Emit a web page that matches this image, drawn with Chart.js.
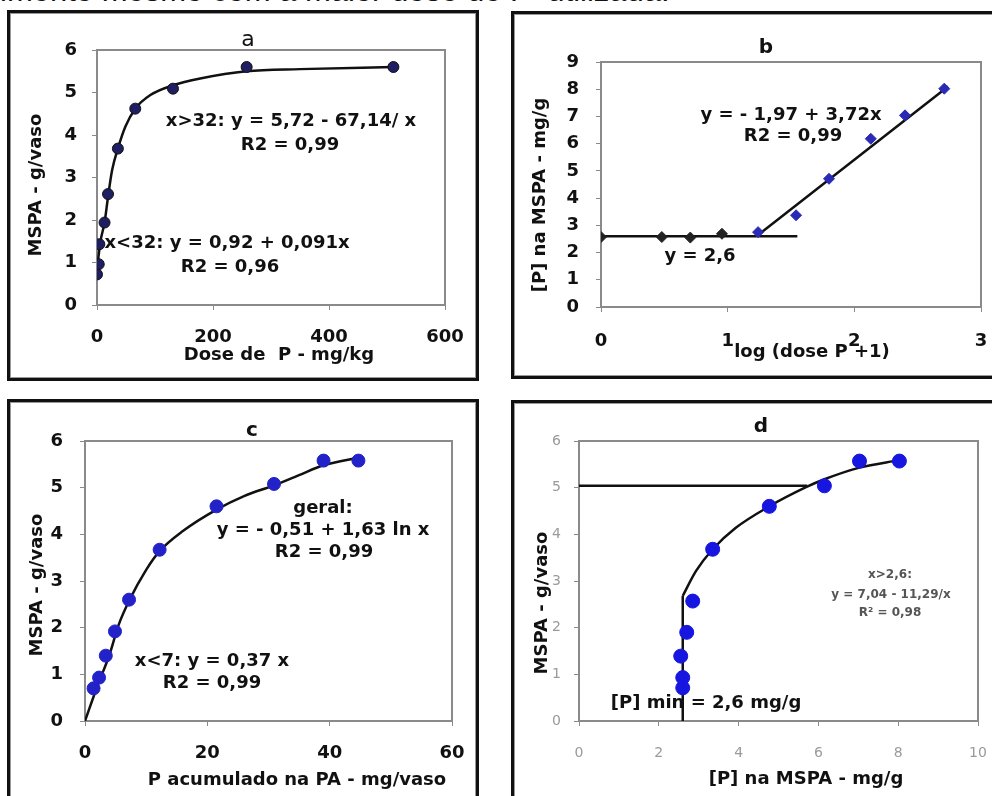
<!DOCTYPE html>
<html lang="pt">
<head>
<meta charset="utf-8">
<title>MSPA e P na MSPA</title>
<script src="https://cdn.jsdelivr.net/npm/chart.js@4.4.1/dist/chart.umd.min.js"></script>
<style>
  html, body { margin: 0; padding: 0; background: #fff; overflow: hidden; }
  body { width: 992px; height: 796px; position: relative; }
  .caption {
    position: absolute; left: 0; top: -25px;
    font: 31px "Liberation Sans", Arial, sans-serif; line-height: 31px;
    white-space: pre; color: #111;
  }
  .panel {
    position: absolute; box-sizing: border-box;
    border: 3px solid #111; box-shadow: inset 0 0 0 1px #999; background: #fff;
  }
  .panel canvas { position: absolute; left: 0; top: 0; }
</style>
</head>
<body>
<div class="caption">imento mesmo com a maior dose de P  utilizada.</div>
<div class="panel" id="panelA"><canvas id="chartA"></canvas></div>
<div class="panel" id="panelB"><canvas id="chartB"></canvas></div>
<div class="panel" id="panelC"><canvas id="chartC"></canvas></div>
<div class="panel" id="panelD"><canvas id="chartD"></canvas></div>
<script>
// Panel a: MSPA (g/vaso) vs dose de P (mg/kg)
const doseP = [0, 3, 4, 13, 19, 36, 66, 131, 258, 511];
const mspaA = [0.72, 0.96, 1.43, 1.94, 2.61, 3.68, 4.62, 5.09, 5.6, 5.6];
const curveADose = [1, 6, 13, 19, 26, 36, 49, 66, 92, 131, 178, 258, 350, 511];
const curveAMspa = [0.96, 1.5, 1.94, 2.54, 3.17, 3.68, 4.2, 4.62, 4.94, 5.17, 5.33, 5.5, 5.55, 5.6];
const xTicksA = [0, 200, 400, 600];
const yTicksA = [0, 1, 2, 3, 4, 5, 6];

// Panel b: [P] na MSPA (mg/g) vs log(dose P + 1)
const logDose = [0, 0.48, 0.705, 0.955, 1.24, 1.54, 1.8, 2.13, 2.4, 2.71];
const pMspaB = [2.57, 2.57, 2.55, 2.69, 2.75, 3.37, 4.71, 6.18, 7.04, 8.02];
const plateauBX = [0, 1.55];
const plateauBY = [2.6, 2.6];
const slopeBX = [1.25, 2.74];
const slopeBY = [2.68, 8.1];
const xTicksB = [0, 1, 2, 3];
const yTicksB = [0, 1, 2, 3, 4, 5, 6, 7, 8, 9];

// Panel c: MSPA vs P acumulado na PA (mg/vaso)
const pAcum = [1.4, 2.3, 3.4, 4.9, 7.2, 12.2, 21.5, 30.9, 39.0, 44.7];
const mspaC = [0.7, 0.93, 1.4, 1.92, 2.6, 3.67, 4.6, 5.08, 5.58, 5.58];
const curveCX = [0, 2, 4, 5.5, 7.3, 10, 12.2, 16, 21.5, 26, 30.9, 35, 39, 45];
const curveCY = [0, 0.74, 1.42, 2.06, 2.6, 3.24, 3.64, 4.07, 4.53, 4.82, 5.05, 5.27, 5.48, 5.65];
const xTicksC = [0, 20, 40, 60];
const yTicksC = [0, 1, 2, 3, 4, 5, 6];

// Panel d: MSPA vs [P] na MSPA (mg/g)
const pMspaD = [2.6, 2.6, 2.55, 2.7, 2.85, 3.35, 4.77, 6.15, 7.03, 8.03];
const mspaD = [0.71, 0.93, 1.39, 1.9, 2.57, 3.68, 4.6, 5.04, 5.57, 5.57];
const curveDX = [2.6, 2.93, 3.35, 3.93, 4.77, 5.69, 6.15, 7.03, 8.03];
const curveDY = [2.68, 3.21, 3.68, 4.14, 4.6, 5.01, 5.18, 5.43, 5.59];
const minLineDX = [2.6, 2.6];
const minLineDY = [0, 2.68];
const levelLineDX = [0, 5.72];
const levelLineDY = [5.04, 5.04];
const xTicksD = [0, 2, 4, 6, 8, 10];
const yTicksD = [0, 1, 2, 3, 4, 5, 6];

const FONT = "'DejaVu Sans', Verdana, sans-serif";
const BORDER = 3;

// Pair two arrays into {x, y} points
function pts(xs, ys) {
  return xs.map((x, i) => ({ x: x, y: ys[i] }));
}

function lineSet(xs, ys) {
  return {
    data: pts(xs, ys),
    showLine: true,
    borderColor: "#111",
    borderWidth: 2.5,
    pointRadius: 0,
    cubicInterpolationMode: "monotone",
    order: 2,
  };
}

function pointSet(xs, ys, style) {
  return Object.assign(
    {
      data: pts(xs, ys),
      showLine: false,
      borderWidth: 1,
      order: 1,
    },
    style
  );
}

function axis(ticks, o) {
  return {
    type: "linear",
    min: ticks[0],
    max: ticks[ticks.length - 1],
    ticks: {
      stepSize: ticks[1] - ticks[0],
      autoSkip: false,
      maxRotation: 0,
      padding: o.pad,
      color: o.tickColor || "#111",
      font: { family: FONT, size: o.fontSize || 18, weight: o.weight || "bold" },
    },
    grid: {
      drawOnChartArea: false,
      drawTicks: true,
      tickLength: 5,
      color: o.gridColor || "#8a8a8a",
    },
    border: { display: true, color: o.lineColor || "#8a8a8a", width: 2 },
    afterFit: o.fit,
  };
}

// Draws the texts of a panel (page coordinates) and the plot-area frame
const panelText = {
  id: "panelText",
  beforeDatasetsDraw(chart) {
    const o = chart.options.plugins.panelText;
    const ctx = chart.ctx;
    const a = chart.chartArea;
    ctx.save();
    ctx.strokeStyle = o.frame;
    ctx.lineWidth = 2;
    ctx.strokeRect(a.left, a.top, a.right - a.left, a.bottom - a.top);
    ctx.restore();
  },
  afterDraw(chart) {
    const o = chart.options.plugins.panelText;
    const ctx = chart.ctx;
    ctx.save();
    ctx.textAlign = "center";
    ctx.textBaseline = "middle";
    o.texts.forEach((t) => {
      ctx.save();
      ctx.translate(t.x - o.ox, t.y - o.oy);
      if (t.rot) ctx.rotate(-Math.PI / 2);
      ctx.font = t.font || "bold 18px " + FONT;
      ctx.fillStyle = t.color || "#111";
      ctx.fillText(t.text, 0, 0);
      ctx.restore();
    });
    ctx.restore();
  },
};

function makePanel(panelId, canvasId, box, plot, cfg) {
  const div = document.getElementById(panelId);
  div.style.left = box.x + "px";
  div.style.top = box.y + "px";
  div.style.width = box.w + "px";
  div.style.height = box.h + "px";

  const cw = box.w - 2 * BORDER;
  const ch = box.h - 2 * BORDER;
  const ox = box.x + BORDER;
  const oy = box.y + BORDER;
  const canvas = document.getElementById(canvasId);
  canvas.width = cw;
  canvas.height = ch;
  canvas.style.width = cw + "px";
  canvas.style.height = ch + "px";

  const yW = plot.l - ox;
  const xH = oy + ch - plot.b;
  const fitY = (s) => {
    s.width = yW;
    s.paddingTop = s.paddingBottom = s.paddingLeft = s.paddingRight = 0;
  };
  const fitX = (s) => {
    s.height = xH;
    s.paddingTop = s.paddingBottom = s.paddingLeft = s.paddingRight = 0;
  };

  return new Chart(canvas, {
    type: "scatter",
    data: { datasets: cfg.datasets },
    options: {
      responsive: false,
      animation: false,
      layout: {
        padding: { top: plot.t - oy, right: ox + cw - plot.r, left: 0, bottom: 0 },
      },
      scales: {
        x: axis(cfg.xTicks, Object.assign({ fit: fitX }, cfg.xAxis)),
        y: axis(cfg.yTicks, Object.assign({ fit: fitY }, cfg.yAxis)),
      },
      plugins: {
        legend: { display: false },
        tooltip: { enabled: false },
        panelText: { ox: ox, oy: oy, frame: cfg.frame || "#8a8a8a", texts: cfg.texts },
      },
    },
    plugins: [panelText],
  });
}

// Panel a
makePanel("panelA", "chartA", { x: 7, y: 10, w: 472, h: 371 }, { l: 97, t: 50, r: 445, b: 305 }, {
  xTicks: xTicksA,
  yTicks: yTicksA,
  xAxis: { pad: 17 },
  yAxis: { pad: 15 },
  datasets: [
    lineSet(curveADose, curveAMspa),
    pointSet(doseP, mspaA, {
      pointRadius: 5.5,
      backgroundColor: "#1e1e62",
      borderColor: "#111",
    }),
  ],
  texts: [
    { text: "a", x: 248, y: 40, font: "22px " + FONT },
    { text: "x>32: y = 5,72 - 67,14/ x", x: 291, y: 121 },
    { text: "R2 = 0,99", x: 290, y: 145 },
    { text: "x<32: y = 0,92 + 0,091x", x: 227, y: 243 },
    { text: "R2 = 0,96", x: 230, y: 267 },
    { text: "MSPA - g/vaso", x: 36, y: 185, rot: true },
    { text: "Dose de  P - mg/kg", x: 279, y: 355 },
  ],
});

// Panel b
makePanel("panelB", "chartB", { x: 511, y: 11, w: 490, h: 368 }, { l: 601, t: 62, r: 981, b: 307 }, {
  xTicks: xTicksB,
  yTicks: yTicksB,
  xAxis: { pad: 19 },
  yAxis: { pad: 17 },
  datasets: [
    lineSet(plateauBX, plateauBY),
    lineSet(slopeBX, slopeBY),
    pointSet(logDose, pMspaB, {
      pointStyle: "rectRot",
      pointRadius: 5.5,
      backgroundColor: (c) => (c.dataIndex < 4 ? "#222" : "#2a2ab4"),
      borderColor: (c) => (c.dataIndex < 4 ? "#222" : "#2a2ab4"),
    }),
  ],
  texts: [
    { text: "b", x: 766, y: 48, font: "bold 20px " + FONT },
    { text: "y = - 1,97 + 3,72x", x: 791, y: 115 },
    { text: "R2 = 0,99", x: 793, y: 136 },
    { text: "y = 2,6", x: 700, y: 256 },
    { text: "[P] na MSPA - mg/g", x: 540, y: 195, rot: true },
    { text: "log (dose P +1)", x: 812, y: 352 },
  ],
});

// Panel c
makePanel("panelC", "chartC", { x: 7, y: 399, w: 472, h: 410 }, { l: 85, t: 441, r: 452, b: 721 }, {
  xTicks: xTicksC,
  yTicks: yTicksC,
  xAxis: { pad: 17 },
  yAxis: { pad: 17 },
  datasets: [
    lineSet(curveCX, curveCY),
    pointSet(pAcum, mspaC, {
      pointRadius: 6.5,
      backgroundColor: "#2222c8",
      borderColor: "#2222c8",
    }),
  ],
  texts: [
    { text: "c", x: 252, y: 431, font: "bold 20px " + FONT },
    { text: "geral:", x: 323, y: 508 },
    { text: "y = - 0,51 + 1,63 ln x", x: 323, y: 530 },
    { text: "R2 = 0,99", x: 324, y: 552 },
    { text: "x<7: y = 0,37 x", x: 212, y: 661 },
    { text: "R2 = 0,99", x: 212, y: 683 },
    { text: "MSPA - g/vaso", x: 37, y: 585, rot: true },
    { text: "P acumulado na PA - mg/vaso", x: 297, y: 780 },
  ],
});

// Panel d
makePanel("panelD", "chartD", { x: 511, y: 400, w: 490, h: 410 }, { l: 579, t: 441, r: 978, b: 721 }, {
  xTicks: xTicksD,
  yTicks: yTicksD,
  xAxis: { pad: 19, fontSize: 14, weight: "normal", tickColor: "#9a9a9a", lineColor: "#333" },
  yAxis: { pad: 13, fontSize: 14, weight: "normal", tickColor: "#9a9a9a", lineColor: "#333" },
  datasets: [
    lineSet(minLineDX, minLineDY),
    lineSet(curveDX, curveDY),
    lineSet(levelLineDX, levelLineDY),
    pointSet(pMspaD, mspaD, {
      pointRadius: 7,
      backgroundColor: "#1616e0",
      borderColor: "#1616e0",
    }),
  ],
  texts: [
    { text: "d", x: 761, y: 427, font: "bold 20px " + FONT },
    { text: "x>2,6:", x: 890, y: 575, font: "bold 12px " + FONT, color: "#555" },
    { text: "y = 7,04 - 11,29/x", x: 891, y: 595, font: "bold 12px " + FONT, color: "#555" },
    { text: "R² = 0,98", x: 890, y: 613, font: "bold 12px " + FONT, color: "#555" },
    { text: "[P] min = 2,6 mg/g", x: 706, y: 703 },
    { text: "MSPA - g/vaso", x: 542, y: 603, rot: true },
    { text: "[P] na MSPA - mg/g", x: 806, y: 779 },
  ],
});
</script>
</body>
</html>
